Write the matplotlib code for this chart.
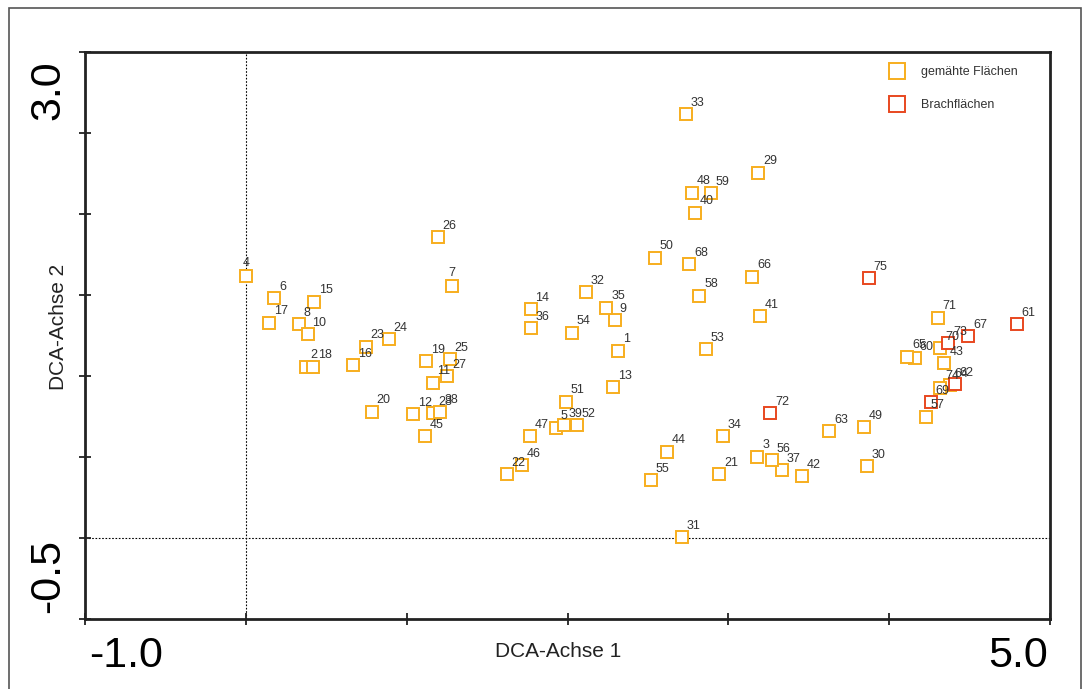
import matplotlib
matplotlib.use("Agg")
import matplotlib.pyplot as plt
from matplotlib.patches import Rectangle

plt.rcParams['font.family'] = ['Liberation Sans', 'DejaVu Sans']

# gemaehte Flaechen (mown plots)
mown_ids = [1, 2, 3, 4, 5, 6, 7, 8, 9, 10, 11, 12, 13, 14, 15, 16, 17, 18, 19, 20,
            21, 22, 23, 24, 25, 26, 27, 28, 29, 30, 31, 32, 33, 34, 35, 36, 37, 38, 39, 40,
            41, 42, 43, 44, 45, 46, 47, 48, 49, 50, 51, 52, 53, 54, 55, 56, 57, 58, 59, 60,
            63, 64, 65, 66, 68, 70, 71, 74]
mown_x = [2.313, 0.373, 3.180, 0.004, 1.928, 0.178, 1.281, 0.330, 2.295, 0.384,
          1.161, 1.040, 2.284, 1.770, 0.423, 0.667, 0.143, 0.419, 1.121, 0.782,
          2.942, 1.621, 0.744, 0.889, 1.269, 1.194, 1.252, 1.165, 3.186, 3.860,
          2.710, 2.114, 2.734, 2.968, 2.241, 1.770, 3.333, 1.206, 1.979, 2.792,
          3.198, 3.460, 4.343, 2.616, 1.113, 1.715, 1.766, 2.772, 3.843, 2.544,
          1.990, 2.057, 2.859, 2.025, 2.519, 3.269, 4.229, 2.819, 2.890, 4.160,
          3.627, 4.378, 4.113, 3.149, 2.757, 4.316, 4.302, 4.316]
mown_y = [1.157, 1.057, 0.502, 1.617, 0.681, 1.480, 1.556, 1.319, 1.343, 1.259,
          0.959, 0.765, 0.930, 1.414, 1.459, 1.068, 1.329, 1.057, 1.093, 0.780,
          0.395, 0.393, 1.181, 1.227, 1.105, 1.858, 1.000, 0.770, 2.255, 0.444,
          0.004, 1.519, 2.617, 0.630, 1.422, 1.296, 0.420, 0.780, 0.698, 2.008,
          1.370, 0.383, 1.078, 0.533, 0.630, 0.451, 0.630, 2.131, 0.683, 1.730,
          0.841, 0.698, 1.167, 1.267, 0.358, 0.481, 0.749, 1.496, 2.128, 1.109,
          0.660, 0.944, 1.119, 1.613, 1.691, 1.171, 1.360, 0.928]

# Brachflaechen (fallow plots)
fallow_ids = [61, 62, 67, 69, 72, 73, 75]
fallow_x = [4.793, 4.409, 4.492, 4.260, 3.259, 4.368, 3.874]
fallow_y = [1.321, 0.951, 1.247, 0.838, 0.770, 1.202, 1.603]

x_ticks = [-1, 0, 1, 2, 3, 4, 5]
y_ticks = [-0.5, 0, 0.5, 1.0, 1.5, 2.0, 2.5, 3.0]

mown_color = '#F7AE1E'
fallow_color = '#E8481F'
label_color = '#333333'

fig = plt.figure(figsize=(10.9, 6.89), dpi=100)
ax = fig.add_axes([0.078, 0.1016, 0.8853, 0.8229])

ax.axvline(0, color='black', lw=0.8, ls=(0, (1.5, 1.5)), zorder=1)
ax.axhline(0, color='black', lw=0.8, ls=(0, (1.5, 1.5)), zorder=1)

ax.plot(mown_x, mown_y, 's', ms=8.5, mfc='white', mec=mown_color, mew=1.4,
        ls='none', label='gemähte Flächen', zorder=3)
ax.plot(fallow_x, fallow_y, 's', ms=8.5, mfc='white', mec=fallow_color, mew=1.4,
        ls='none', label='Brachflächen', zorder=4)

centered = {4, 7}
for ids, xs, ys in [(mown_ids, mown_x, mown_y), (fallow_ids, fallow_x, fallow_y)]:
    for i, x, y in zip(ids, xs, ys):
        if i in centered:
            off, ha = (0, 7), 'center'
        else:
            off, ha = (3.5, 6), 'left'
        ax.annotate(str(i), (x, y), xytext=off, textcoords='offset points',
                    ha=ha, va='baseline', fontsize=9, color=label_color, zorder=5)

ax.set_xlim(-1, 5)
ax.set_ylim(-0.5, 3.0)
ax.set_xticks(x_ticks)
ax.set_yticks(y_ticks)
ax.set_xticklabels([])
ax.set_yticklabels([])
ax.tick_params(direction='inout', length=9, width=1.3, color='#222222')

for side in ['left', 'bottom', 'top', 'right']:
    ax.spines[side].set_linewidth(2.0)
    ax.spines[side].set_color('#222222')

# end labels of the axes only
ax.text(0.004, -0.065, '-1.0', transform=ax.transAxes, ha='left', va='center', fontsize=31)
ax.text(0.998, -0.065, '5.0', transform=ax.transAxes, ha='right', va='center', fontsize=31)
ax.text(-0.038, 0.985, '3.0', transform=ax.transAxes, ha='center', va='top',
        rotation=90, fontsize=31)
ax.text(-0.038, 0.01, '-0.5', transform=ax.transAxes, ha='center', va='bottom',
        rotation=90, fontsize=31)

ax.text(0.49, -0.058, 'DCA-Achse 1', transform=ax.transAxes, ha='center', va='center',
        fontsize=15, color='#222222')
ax.text(-0.028, 0.515, 'DCA-Achse 2', transform=ax.transAxes, ha='center', va='center',
        rotation=90, fontsize=15, color='#222222')

leg = ax.legend(loc='upper right', bbox_to_anchor=(0.978, 0.995), frameon=False,
                fontsize=9, markerscale=1.35, handletextpad=0.9, labelspacing=1.7)
for t in leg.get_texts():
    t.set_color(label_color)

fig.patches.append(Rectangle((0.008, -0.05), 0.984, 1.038, transform=fig.transFigure,
                             fill=False, edgecolor='#555555', lw=1.2))

fig.savefig('out.png', dpi=100)
